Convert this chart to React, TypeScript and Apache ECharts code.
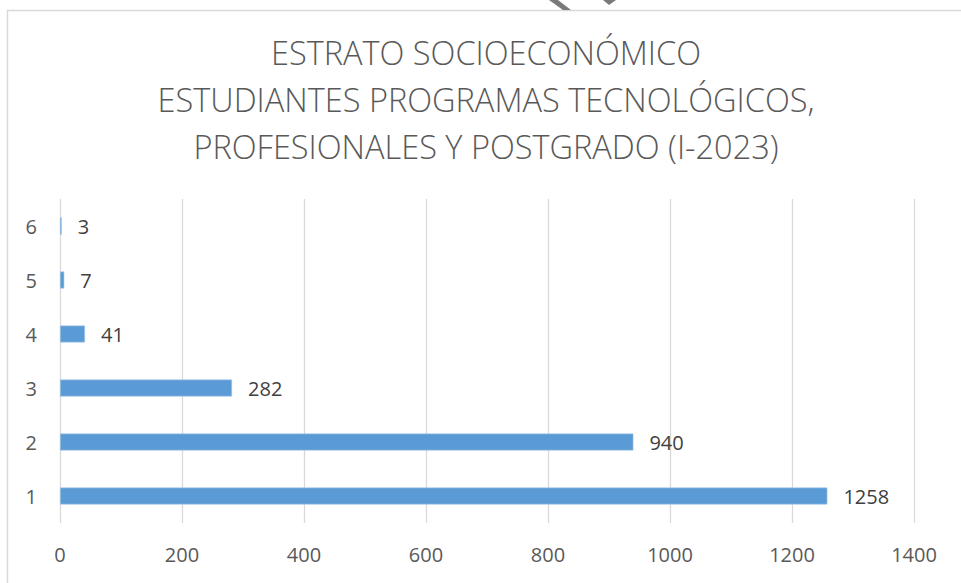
import React, { useEffect, useRef } from "react";
import * as echarts from "echarts";

const titleLines = [
  "ESTRATO SOCIOECONÓMICO",
  "ESTUDIANTES PROGRAMAS TECNOLÓGICOS,",
  "PROFESIONALES Y POSTGRADO (I-2023)",
];
const categories = ["1", "2", "3", "4", "5", "6"];
const values = [1258, 940, 282, 41, 7, 3];
const xMin = 0;
const xMax = 1400;
const xInterval = 200;

const FONT = "'Open Sans', 'Noto Sans', sans-serif";

export default function App() {
  const ref = useRef<HTMLDivElement>(null);
  useEffect(() => {
    if (!ref.current) return;
    const chart = echarts.init(ref.current, undefined, { renderer: "svg" });
    chart.setOption({
      animation: false,
      backgroundColor: "#ffffff",
      graphic: [
        {
          type: "rect",
          shape: { x: 7.5, y: 10.5, width: 1000, height: 1000 },
          style: { fill: "none", stroke: "#d9d9d9", lineWidth: 1.5 },
          silent: true,
        },
        {
          type: "polygon",
          shape: { points: [[549, 0], [558, 0], [571, 10], [563, 10]] },
          style: { fill: "#7a7a7a" },
          silent: true,
        },
        {
          type: "polygon",
          shape: { points: [[603, 0], [616, 0], [609, 5]] },
          style: { fill: "#7a7a7a" },
          silent: true,
        },
        {
          type: "text",
          x: 486,
          y: 29,
          silent: true,
          style: {
            text: titleLines.join("\n"),
            align: "center",
            verticalAlign: "top",
            fontFamily: FONT,
            fontWeight: 300,
            fontSize: 32.5,
            lineHeight: 47,
            fill: "#595959",
          },
        },
      ],
      grid: { left: 60, right: 47, top: 199, bottom: 60, containLabel: false },
      xAxis: {
        type: "value",
        min: xMin,
        max: xMax,
        interval: xInterval,
        axisLine: { show: false },
        axisTick: { show: false },
        splitLine: { show: true, lineStyle: { color: "#d9d9d9", width: 1.3 } },
        axisLabel: {
          color: "#595959",
          fontFamily: FONT,
          fontSize: 20,
          margin: 21,
          formatter: (v: number) => String(v),
        },
      },
      yAxis: {
        type: "category",
        data: categories,
        axisLine: { show: false },
        axisTick: { show: false },
        splitLine: { show: false },
        axisLabel: {
          color: "#595959",
          fontFamily: FONT,
          fontSize: 20,
          margin: 23,
        },
      },
      series: [
        {
          type: "bar",
          data: values,
          barWidth: 17,
          itemStyle: { color: "#5b9bd5", borderColor: "#a9c9ea", borderWidth: 0.6 },
          label: {
            show: true,
            position: "right",
            distance: 16,
            color: "#404040",
            fontFamily: FONT,
            fontSize: 20,
            formatter: (p: any) => String(p.value),
          },
        },
      ],
    });
    return () => chart.dispose();
  }, []);
  return (
    <div
      ref={ref}
      style={{ position: "absolute", left: 0, top: 0, width: 961, height: 583 }}
    />
  );
}
